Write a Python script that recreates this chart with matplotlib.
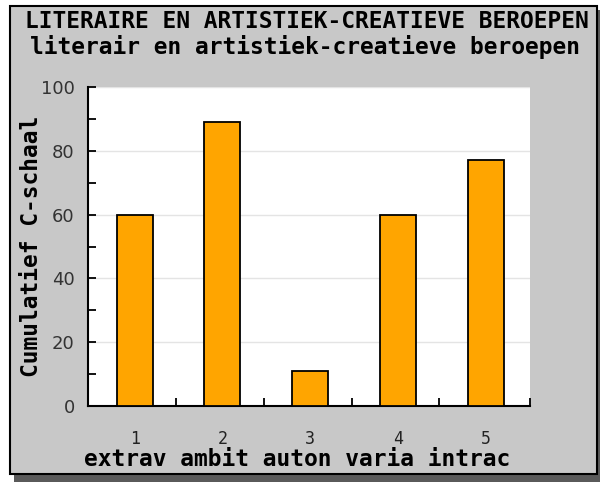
import matplotlib
matplotlib.use('Agg')
import matplotlib.pyplot as plt
from matplotlib.patches import Rectangle
from matplotlib.ticker import MultipleLocator, FixedLocator

# ---- data ----
positions  = [1, 2, 3, 4, 5]
values     = [60, 89, 11, 60, 77]
categories = ['extrav', 'ambit', 'auton', 'varia', 'intrac']
title_1    = 'LITERAIRE EN ARTISTIEK-CREATIEVE BEROEPEN'
title_2    = 'literair en artistiek-creatieve beroepen'
ylabel     = 'Cumulatief C-schaal'

W, H = 600, 482
MONO = 'DejaVu Sans Mono'
FS   = 16.5

fig = plt.figure(figsize=(W / 100, H / 100), dpi=100, facecolor='white')

# shadow + grey panel (behind the axes)
fig.patches.append(Rectangle((14 / W, 0), 586 / W, 472 / H, transform=fig.transFigure,
                             facecolor='#5a5a5a', edgecolor='none', zorder=-3))
fig.patches.append(Rectangle((9.5 / W, 8.5 / H), 587 / W, 468 / H, transform=fig.transFigure,
                             facecolor='#c8c8c8', edgecolor='black', lw=1.5, zorder=-2))

ax = fig.add_axes([88 / W, 76 / H, 442 / W, 319 / H])
ax.set_facecolor('white')
ax.bar(positions, values, width=0.41, color='#ffa500', edgecolor='black', lw=1.3, zorder=3)

ax.set_xlim(0.47, 5.5)
ax.set_ylim(0, 100)
for s in ('top', 'right'):
    ax.spines[s].set_visible(False)
for s in ('left', 'bottom'):
    ax.spines[s].set_linewidth(1.5)

ax.yaxis.set_major_locator(MultipleLocator(20))
ax.yaxis.set_minor_locator(MultipleLocator(10))
ax.tick_params(axis='y', which='both', direction='in', length=6, width=1.3,
               labelsize=13, labelcolor='#333333', pad=9.5)
ax.grid(axis='y', which='major', color='#e4e4e4', lw=1, zorder=0)

ax.xaxis.set_major_locator(FixedLocator(positions))
ax.xaxis.set_minor_locator(FixedLocator([1.47, 2.47, 3.47, 4.47, 5.5]))
ax.set_xticklabels([str(p) for p in positions], family=MONO, fontsize=12, color='#222222')
ax.tick_params(axis='x', which='major', length=0, pad=17)
ax.tick_params(axis='x', which='minor', direction='in', length=6, width=1.3)

ax.set_ylabel(ylabel, family=MONO, fontweight='bold', fontsize=FS)
ax.yaxis.set_label_coords(-45 / 442, 0.5)

fig.text(297 / W, 1 - 459 / H, ' '.join(categories), family=MONO, fontweight='bold',
         fontsize=FS, ha='center', va='center')
fig.text(307 / W, 1 - 22 / H, title_1, family=MONO, fontweight='bold',
         fontsize=FS, ha='center', va='center')
fig.text(305 / W, 1 - 47 / H, title_2, family=MONO, fontweight='bold',
         fontsize=FS, ha='center', va='center')

plt.savefig('out.png', dpi=100, facecolor='white')
